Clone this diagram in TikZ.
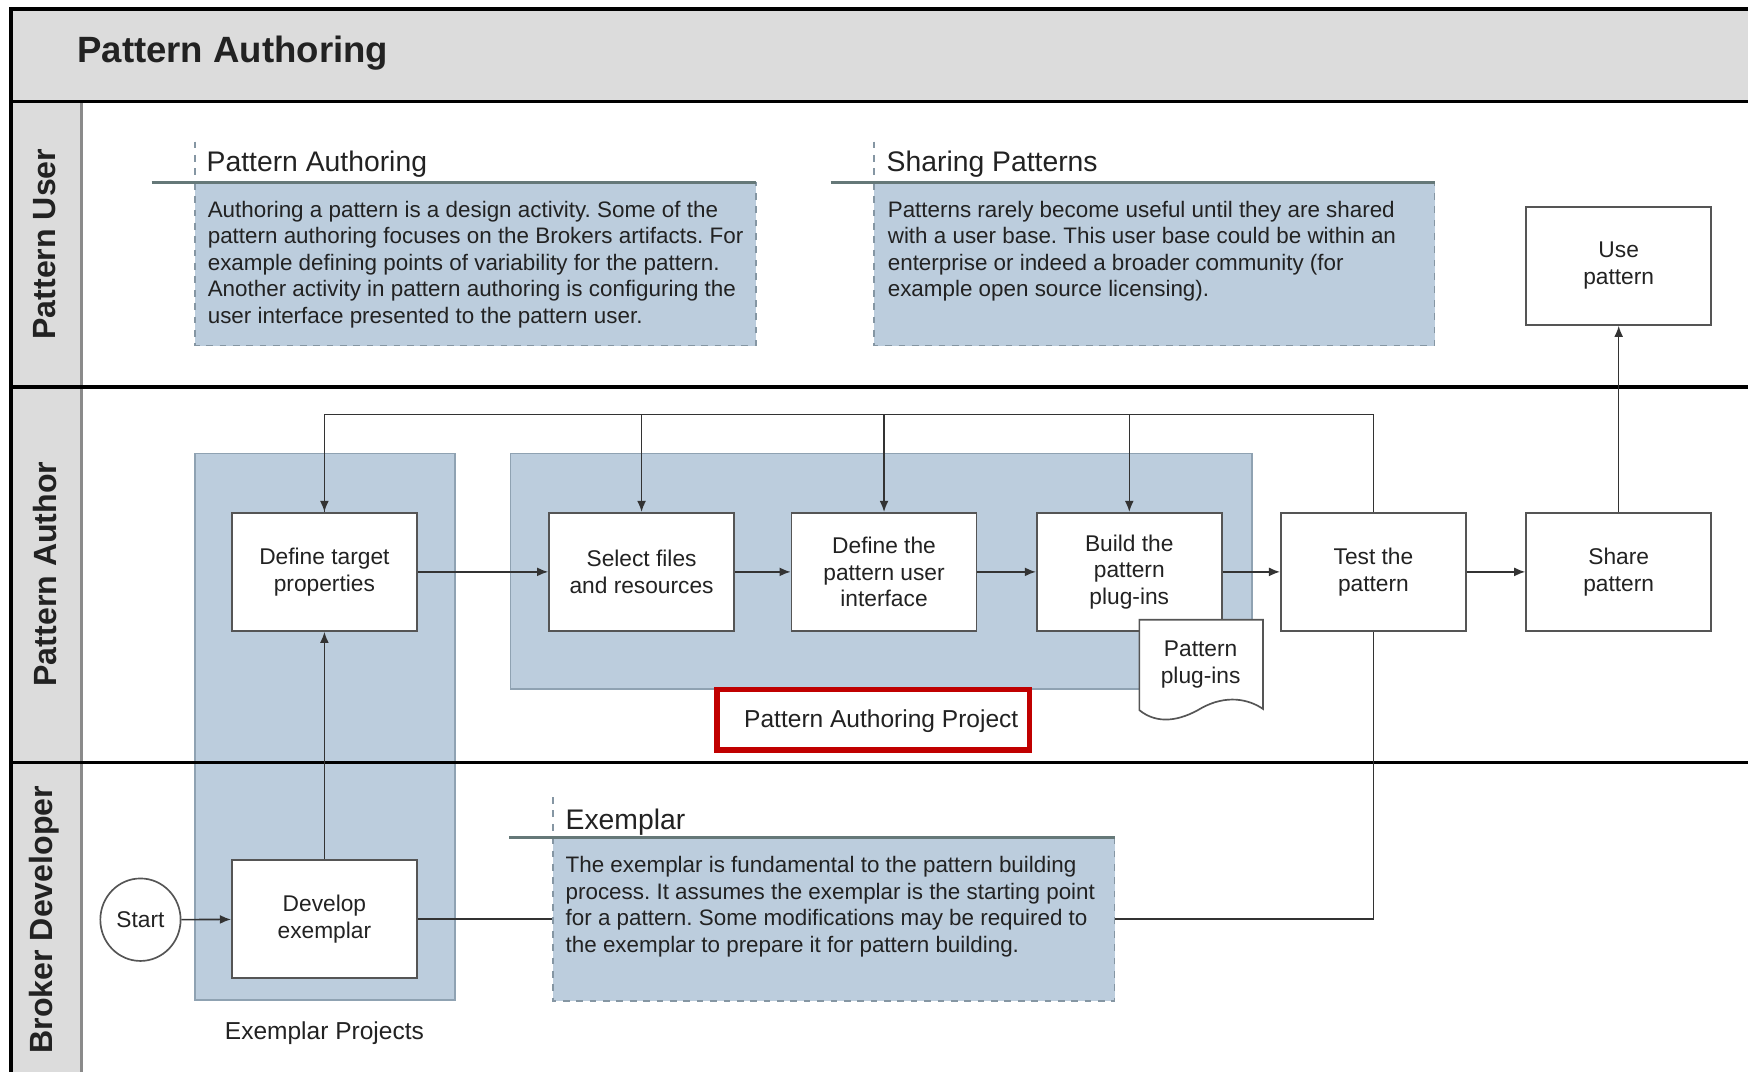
\documentclass[tikz,border=0pt]{standalone}
\usepackage{fontspec}
\setmainfont{Liberation Sans}
\usetikzlibrary{arrows.meta,shapes.geometric}
\frenchspacing

\definecolor{laneGray}{HTML}{DCDCDC}
\definecolor{laneEdge}{HTML}{8A8A8A}
\definecolor{noteBlue}{HTML}{BCCDDD}
\definecolor{barGray}{HTML}{657878}
\definecolor{dashGray}{HTML}{8596A3}
\definecolor{groupEdge}{HTML}{8FA2B2}
\definecolor{frameRed}{HTML}{C00000}
\definecolor{boxEdge}{HTML}{555555}
\definecolor{ink}{HTML}{222222}
\definecolor{wire}{HTML}{333333}

\tikzset{
  lanerule/.style={line width=1.5pt, black},
  stepbox/.style={draw=boxEdge, line width=0.75pt, fill=white, text=ink,
    minimum width=83pt, minimum height=53pt, inner sep=0pt, align=center,
    font=\fontsize{10.2}{12}\selectfont},
  startnode/.style={ellipse, draw=boxEdge, line width=0.75pt, fill=white, text=ink,
    minimum width=36pt, minimum height=37pt, inner sep=0pt,
    font=\fontsize{10.2}{12}\selectfont},
  groupbox/.style={fill=noteBlue, draw=groupEdge, line width=0.6pt},
  notebox/.style={fill=noteBlue, draw=dashGray, dashed, line width=0.6pt},
  notebar/.style={draw=barGray, line width=1.5pt},
  notestem/.style={draw=dashGray, dashed, line width=0.6pt},
  notehead/.style={anchor=base west, inner sep=0pt, text=ink,
    font=\fontsize{12.7}{15}\selectfont},
  notetext/.style={anchor=north west, inner sep=0pt, align=left, text=ink,
    font=\fontsize{10.05}{11.875}\selectfont},
  lanelabel/.style={rotate=90, inner sep=0pt, text=ink,
    font=\fontsize{14.4}{17}\selectfont\bfseries},
  caption/.style={inner sep=0pt, text=ink, font=\fontsize{11}{13}\selectfont},
  conn/.style={draw=wire, line width=0.7pt},
  flow/.style={conn, -{Latex[length=5pt,width=4pt]}},
}

\begin{document}
\begin{tikzpicture}[x=0.5pt,y=-0.5pt]
\useasboundingbox (0,0) rectangle (1568,961);
\clip (0,0) rectangle (1568,961);

% lanes and header
\fill[white] (0,0) rectangle (1568,961);
\fill[laneGray] (10,8) rectangle (1600,91);
\fill[laneGray] (10,91) rectangle (73,1000);
\draw[laneEdge, line width=1.4pt] (73,91) -- (73,1000);

% project groupings
\draw[groupbox] (175,407) rectangle (408,897);
\draw[groupbox] (458,407) rectangle (1123,618);
\node[caption] (exProjects) at (291,927) {Exemplar Projects};

% lane rules sit over the groupings
\draw[lanerule] (10,1000) -- (10,8) -- (1600,8);
\draw[lanerule] (10,91) -- (1600,91);
\draw[lanerule] (10,347) -- (1600,347);
\draw[lanerule] (10,684) -- (1600,684);

\node[anchor=base west, inner sep=0pt, text=ink, font=\fontsize{16.4}{19}\selectfont\bfseries]
  (title) at (69,56) {Pattern Authoring};
\node[lanelabel] (laneUser) at (40,219) {Pattern User};
\node[lanelabel] (laneAuthor) at (40,515) {Pattern Author};
\node[lanelabel] (laneBroker) at (40,825) {Broker Developer};

% note: pattern authoring
\draw[notebox] (175,164) rectangle (678,310);
\draw[notestem] (175,127) -- (175,164);
\draw[notebar] (136,164) -- (678,164);
\node[notehead] (paHead) at (185,154) {Pattern Authoring};
\node[notetext] (paText) at (186,180) {Authoring a pattern is a design activity. Some of the\\
pattern authoring focuses on the Brokers artifacts. For\\
example defining points of variability for the pattern.\\
Another activity in pattern authoring is configuring the\\
user interface presented to the pattern user.};

% note: sharing patterns
\draw[notebox] (784,164) rectangle (1287,310);
\draw[notestem] (784,127) -- (784,164);
\draw[notebar] (745,164) -- (1287,164);
\node[notehead] (spHead) at (795,154) {Sharing Patterns};
\node[notetext] (spText) at (796,180) {Patterns rarely become useful until they are shared\\
with a user base. This user base could be within an\\
enterprise or indeed a broader community (for\\
example open source licensing).};

% process steps
\node[stepbox] (dtp) at (291,513) {Define target\\properties};
\node[stepbox] (sel) at (575.5,513) {Select files\\and resources};
\node[stepbox] (dui) at (793,513) {Define the\\pattern user\\interface};
\node[stepbox] (bld) at (1013,513) {Build the\\pattern\\plug-ins};
\node[stepbox] (tst) at (1232,513) {Test the\\pattern};
\node[stepbox] (shr) at (1452,513) {Share\\pattern};
\node[stepbox] (use) at (1452,238.5) {Use\\pattern};
\node[stepbox] (dev) at (291,824.5) {Develop\\exemplar};
\node[startnode] (start) at (126,825) {Start};

% exemplar feeds the test step (runs under the exemplar note)
\draw[conn] (dev.east) -| (tst.south);

% note: exemplar
\draw[notebox] (496,751) rectangle (1000,898);
\draw[notestem] (496,715) -- (496,751);
\draw[notebar] (457,751) -- (1000,751);
\node[notehead] (exHead) at (507,744) {Exemplar};
\node[notetext] (exText) at (507,768) {The exemplar is fundamental to the pattern building\\
process. It assumes the exemplar is the starting point\\
for a pattern. Some modifications may be required to\\
the exemplar to prepare it for pattern building.};

% generated artefact
\draw[draw=boxEdge, line width=0.75pt, fill=white]
  (1022,556) -- (1133,556) -- (1133,636)
  .. controls (1120,627) and (1100,623) .. (1078,635)
  .. controls (1058,647) and (1038,650) .. (1022,637) -- cycle;
\node[align=center, inner sep=0pt, text=ink, font=\fontsize{10.2}{12}\selectfont]
  (plugins) at (1077,596) {Pattern\\plug-ins};

% project label
\node[draw=frameRed, line width=2.6pt, fill=white, minimum width=140pt, minimum height=27pt,
  inner sep=0pt, text=ink, font=\fontsize{11}{13}\selectfont]
  (paProject) at (783.5,645.5) {\hspace*{7pt}\raisebox{-3.5pt}[0pt][0pt]{Pattern Authoring Project}};

% flow
\coordinate (loopTop) at (1232,372);
\draw[conn] (tst.north) -- (tst.north |- loopTop) -| (dtp.north);
\draw[flow] (dtp.north |- loopTop) -- (dtp.north);
\draw[flow] (sel.north |- loopTop) -- (sel.north);
\draw[flow] (dui.north |- loopTop) -- (dui.north);
\draw[flow] (bld.north |- loopTop) -- (bld.north);
\draw[flow] (start) -- (dev);
\draw[flow] (dev) -- (dtp);
\draw[flow] (dtp) -- (sel);
\draw[flow] (sel) -- (dui);
\draw[flow] (dui) -- (bld);
\draw[flow] (bld) -- (tst);
\draw[flow] (tst) -- (shr);
\draw[flow] (shr) -- (use);
\end{tikzpicture}
\end{document}
